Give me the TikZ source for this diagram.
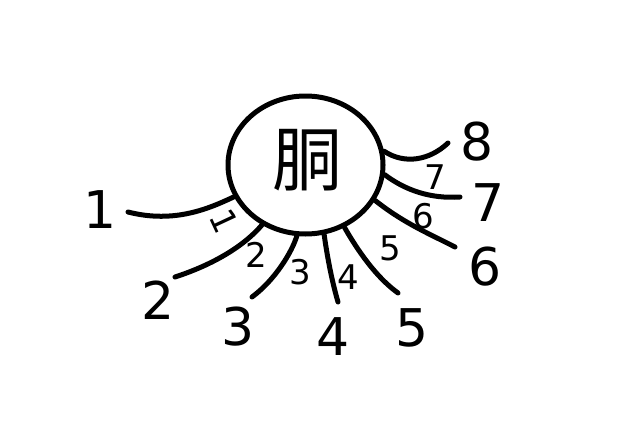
\documentclass[tikz,border=0pt]{standalone}
\usepackage{fontspec}
\usetikzlibrary{shapes.geometric}
\setmainfont{DejaVu Sans}
\newfontfamily\cjk{Noto Sans CJK SC}
\begin{document}
\begin{tikzpicture}[x=1pt,y=-1pt,
  pen/.style={line width=5pt,line cap=round,line join=round},
  outer/.style={font=\fontsize{52}{52}\selectfont,inner sep=0pt},
  inner/.style={font=\fontsize{34}{34}\selectfont,inner sep=0pt}]
\useasboundingbox (0,0) rectangle (620,420);
\node[pen,draw,ellipse,minimum width=155pt,minimum height=138pt,inner sep=0pt] (body) at (305.5,165) {};
\node[font=\cjk\fontsize{70}{70}\selectfont,inner sep=0pt] (t) at (307,160) {胴};
% connector end points
\coordinate (e1) at (128,212);
\coordinate (e2) at (175,277);
\coordinate (e3) at (252,297);
\coordinate (e4) at (338,302);
\coordinate (e5) at (398,293);
\coordinate (e6) at (455,247);
\coordinate (e7) at (460,197);
\coordinate (e8) at (448,143);
\draw[pen] (body.204) .. controls (210,208) and (175,224) .. (e1);
\draw[pen] (body.234) .. controls (245,245) and (215,264) .. (e2);
\draw[pen] (body.263) .. controls (292,252) and (275,280) .. (e3);
\draw[pen] (body.285) .. controls (328,262) and (333,285) .. (e4);
\draw[pen] (body.302) .. controls (362,258) and (380,280) .. (e5);
\draw[pen] (body.333) .. controls (405,224) and (430,234) .. (e6);
\draw[pen] (body.-7) .. controls (405,190) and (430,199) .. (e7);
\draw[pen] (body.10) .. controls (405,165) and (430,160) .. (e8);
% outer labels
\node[outer] (o1) at (100,210) {1};
\node[outer] (o2) at (158,300) {2};
\node[outer] (o3) at (238,327) {3};
\node[outer] (o4) at (333,337) {4};
\node[outer] (o5) at (412,328) {5};
\node[outer] (o6) at (485,267) {6};
\node[outer] (o7) at (488,203) {7};
\node[outer] (o8) at (477,142) {8};
% inner labels
\node[inner,rotate=-65] (i1) at (224,221) {1};
\node[inner] (i2) at (256,255) {2};
\node[inner] (i3) at (300,272) {3};
\node[inner] (i4) at (348,277) {4};
\node[inner] (i5) at (390,248) {5};
\node[inner] (i6) at (423,216) {6};
\node[inner] (i7) at (435,177) {7};
\end{tikzpicture}
\end{document}
